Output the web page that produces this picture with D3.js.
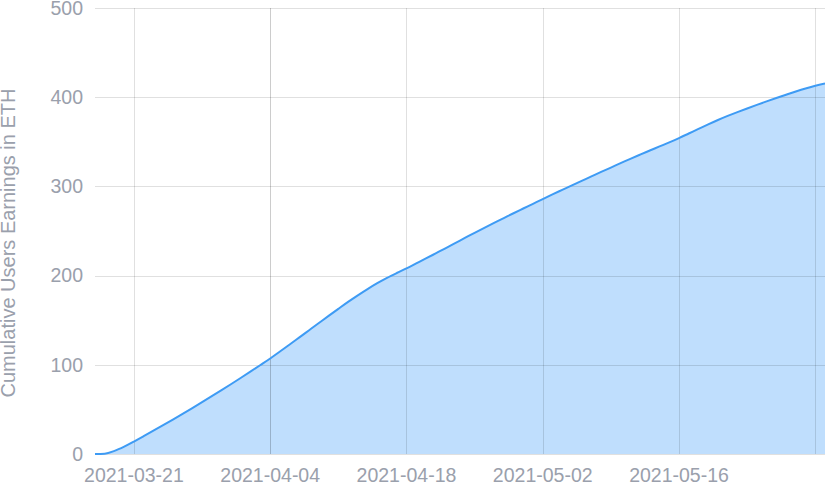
<!DOCTYPE html>
<html>
<head>
<meta charset="utf-8">
<script src="https://cdn.jsdelivr.net/npm/d3@7"></script>
<style>
  body { margin: 0; background: #fff; }
  svg { display: block; font-family: "Liberation Sans", Arial, sans-serif; }
</style>
</head>
<body>
<div id="chart"></div>
<script>
// daily cumulative earnings
const startDate = "2021-03-17";
const earnings = [
  0, 0.4, 3.5, 8.3,
  14, 20.0, 26.1, 32.3, 38.6, 45.0, 51.5, 58.1, 64.8, 71.6, 78.5, 85.5, 92.6, 99.8,
  107.1, 114.9, 122.8, 130.8, 138.8, 146.8, 154.8, 162.7, 170.5, 177.9, 184.9, 191.5,
  197.5, 202.9, 208.0, 213.6, 219.2, 224.9, 230.6, 236.4, 242.2, 248.0, 253.6, 259.1,
  264.5, 269.9, 275.2, 280.5, 285.8, 291.0, 296.1, 301.2, 306.2, 311.2, 316.2, 321.1,
  326.0, 330.9, 335.6, 340.2, 344.8, 349.4, 354.2, 359.3, 364.4, 369.5, 374.4, 379.0,
  383.3, 387.4, 391.4, 395.3, 399.1, 402.8, 406.4, 409.8, 412.9, 415.5
];
const xTicks = ["2021-03-21", "2021-04-04", "2021-04-18", "2021-05-02", "2021-05-16", "2021-05-30"];
const xLabels = ["2021-03-21", "2021-04-04", "2021-04-18", "2021-05-02", "2021-05-16", ""];
const yTicks = [0, 100, 200, 300, 400, 500];
const yTitle = "Cumulative Users Earnings in ETH";

const parseDate = d3.timeParse("%Y-%m-%d");
const t0 = parseDate(startDate);
const data = earnings.map((v, i) => ({ date: d3.timeDay.offset(t0, i), value: v }));

const width = 825, height = 484;
const margin = { top: 8, right: 0, bottom: 30, left: 95 };

const x = d3.scaleTime()
  .domain(d3.extent(data, d => d.date))
  .range([margin.left, width - margin.right]);
const y = d3.scaleLinear()
  .domain([0, 500])
  .range([height - margin.bottom, margin.top]);

const svg = d3.select("#chart").append("svg")
  .attr("width", width)
  .attr("height", height);

const area = d3.area()
  .curve(d3.curveMonotoneX)
  .x(d => x(d.date))
  .y0(y(0))
  .y1(d => y(d.value));

const line = d3.line()
  .curve(d3.curveMonotoneX)
  .x(d => x(d.date))
  .y(d => y(d.value));

svg.append("path")
  .datum(data)
  .attr("d", area)
  .attr("fill", "#bfdefd");

// grid on top of the area
const grid = svg.append("g");
grid.selectAll(".hgrid")
  .data(yTicks)
  .join("line")
  .attr("x1", margin.left)
  .attr("x2", width - margin.right)
  .attr("y1", d => Math.round(y(d)) + 0.5)
  .attr("y2", d => Math.round(y(d)) + 0.5)
  .attr("stroke", "rgba(0,0,0,0.12)");

grid.selectAll(".vgrid")
  .data(xTicks)
  .join("line")
  .attr("x1", d => Math.round(x(parseDate(d))) + 0.5)
  .attr("x2", d => Math.round(x(parseDate(d))) + 0.5)
  .attr("y1", margin.top)
  .attr("y2", height - margin.bottom)
  .attr("stroke", (d, i) => i === 1 ? "rgba(0,0,0,0.2)" : "rgba(0,0,0,0.12)");

svg.append("path")
  .datum(data)
  .attr("d", line)
  .attr("fill", "none")
  .attr("stroke", "#3e9bf4")
  .attr("stroke-width", 2);

const textColor = "#9aa0ac";

svg.append("g")
  .selectAll("text")
  .data(yTicks)
  .join("text")
  .attr("x", 83)
  .attr("y", d => y(d))
  .attr("dy", "0.35em")
  .attr("text-anchor", "end")
  .attr("font-size", 19.5)
  .attr("fill", textColor)
  .text(d => d);

svg.append("g")
  .selectAll("text")
  .data(xTicks)
  .join("text")
  .attr("x", d => x(parseDate(d)))
  .attr("y", 482)
  .attr("text-anchor", "middle")
  .attr("font-size", 19.5)
  .attr("fill", textColor)
  .text((d, i) => xLabels[i]);

svg.append("text")
  .attr("transform", `translate(15, 243) rotate(-90)`)
  .attr("text-anchor", "middle")
  .attr("font-size", 20)
  .attr("fill", textColor)
  .text(yTitle);
</script>
</body>
</html>
